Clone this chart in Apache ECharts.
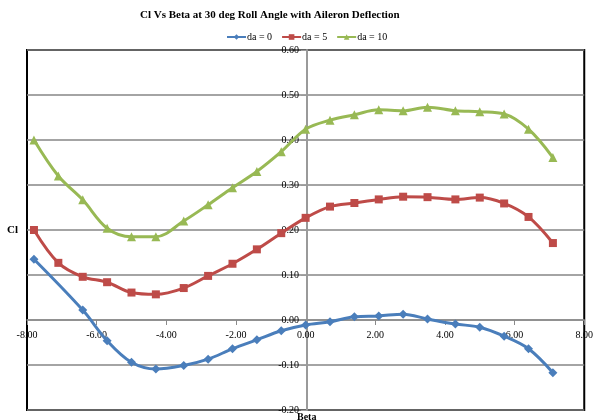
<!DOCTYPE html>
<html>
<head>
<meta charset="utf-8">
<script src="https://cdn.jsdelivr.net/npm/echarts@6/dist/echarts.min.js"></script>
<style>
  html, body { margin: 0; padding: 0; background: #fff; }
  #chart { width: 596px; height: 420px; }
</style>
</head>
<body>
<div id="chart"></div>
<script>
// beta values (deg)
var beta = [-7.8, -7.1, -6.4, -5.7, -5.0, -4.3, -3.5, -2.8, -2.1, -1.4, -0.7,
            0.0, 0.7, 1.4, 2.1, 2.8, 3.5, 4.3, 5.0, 5.7, 6.4, 7.1];
// Cl for each aileron deflection
var da0  = [0.135, null, 0.022, -0.046, -0.094, -0.109, -0.101, -0.087, -0.064, -0.044, -0.024,
            -0.011, -0.004, 0.007, 0.009, 0.013, 0.002, -0.009, -0.016, -0.036, -0.064, -0.117];
var da5  = [0.200, 0.127, 0.096, 0.084, 0.061, 0.057, 0.071, 0.098, 0.125, 0.157, 0.193,
            0.227, 0.252, 0.260, 0.268, 0.274, 0.273, 0.268, 0.272, 0.259, 0.229, 0.171];
var da10 = [0.400, 0.320, 0.267, 0.204, 0.185, 0.185, 0.220, 0.256, 0.294, 0.330, 0.374,
            0.424, 0.444, 0.456, 0.467, 0.465, 0.473, 0.465, 0.463, 0.458, 0.424, 0.361];
var seriesNames = ['da = 0', 'da = 5', 'da = 10'];

function pairs(ys) {
    return beta.map(function (b, i) { return [b, ys[i]]; });
}

var font = 'Liberation Serif';
var chart = echarts.init(document.getElementById('chart'));
chart.setOption({
    animation: false,
    textStyle: { fontFamily: font },
    color: ['#4A7EBB', '#BE4B48', '#98B954'],
    title: {
        text: 'Cl Vs Beta at 30 deg Roll Angle with Aileron Deflection',
        left: 135,
        top: 5,
        textStyle: { fontFamily: font, fontSize: 11, fontWeight: 'bold', color: '#000' }
    },
    legend: {
        top: 27,
        left: 221,
        itemWidth: 19,
        itemHeight: 7,
        itemGap: 9,
        textStyle: { fontFamily: font, fontSize: 10, color: '#000', padding: [0, 0, 0, -4] },
        data: seriesNames
    },
    grid: {
        left: 27, right: 9, top: 50, bottom: 10,
        show: true,
        borderColor: '#000',
        borderWidth: 2
    },
    xAxis: {
        type: 'value',
        min: -8, max: 8, interval: 2,
        position: 'bottom',
        offset: -90,   // sits on Cl = 0
        axisLine: { onZero: false, lineStyle: { color: '#8a8a8a', width: 1.5 } },
        axisTick: { show: true, length: 5, lineStyle: { color: '#8a8a8a' } },
        axisLabel: {
            fontFamily: font, fontSize: 10, color: '#000', margin: 10,
            formatter: function (v) { return v.toFixed(2); }
        },
        splitLine: { show: false }
    },
    yAxis: {
        type: 'value',
        min: -0.2, max: 0.6, interval: 0.1,
        position: 'left',
        offset: -280,  // sits on Beta = 0
        axisLine: { onZero: false, lineStyle: { color: '#9a9a9a', width: 2 } },
        axisTick: { show: true, length: 6, lineStyle: { color: '#9a9a9a' } },
        axisLabel: {
            fontFamily: font, fontSize: 10, color: '#000', margin: 8,
            formatter: function (v) { return v.toFixed(2); }
        },
        splitLine: { show: true, lineStyle: { color: '#868686', width: 1.5 } }
    },
    graphic: [
        { type: 'text', left: 7, top: 225,
          style: { text: 'Cl', font: 'bold 11px "Liberation Serif"', fill: '#000' } },
        { type: 'text', left: 297, top: 412,
          style: { text: 'Beta', font: 'bold 10px "Liberation Serif"', fill: '#000' } }
    ],
    series: [
        { name: seriesNames[0], type: 'line', data: pairs(da0), connectNulls: true,
          smooth: 0.35, symbol: 'diamond', symbolSize: 9, lineStyle: { width: 3 } },
        { name: seriesNames[1], type: 'line', data: pairs(da5),
          smooth: 0.35, symbol: 'rect', symbolSize: 8, lineStyle: { width: 3 } },
        { name: seriesNames[2], type: 'line', data: pairs(da10),
          smooth: 0.35, symbol: 'triangle', symbolSize: 9, lineStyle: { width: 3 } }
    ]
});
</script>
</body>
</html>
